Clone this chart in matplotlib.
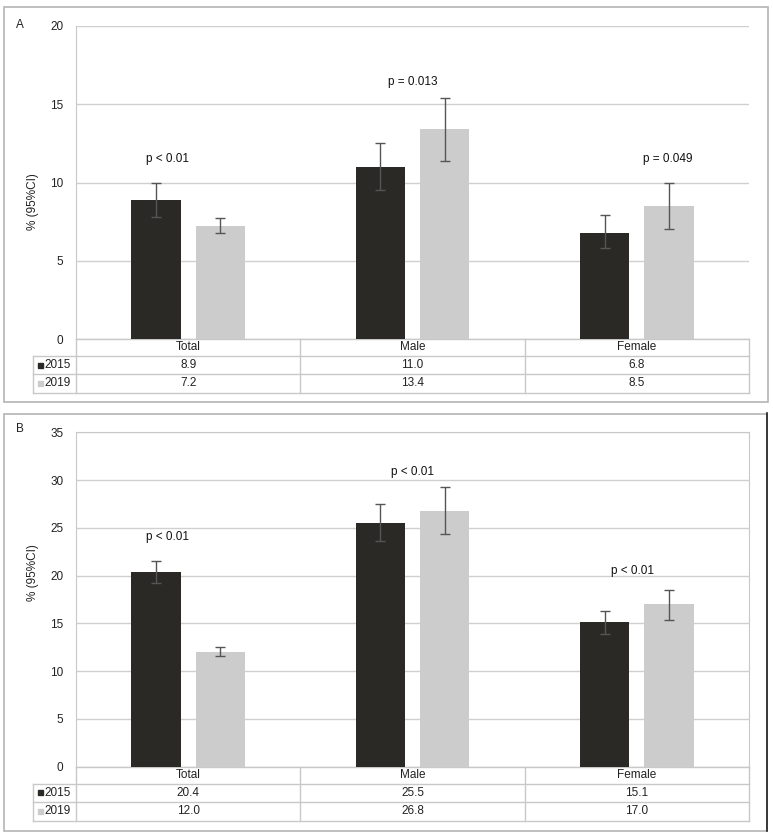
import numpy as np
import matplotlib
matplotlib.use('Agg')
import matplotlib.pyplot as plt
from matplotlib.patches import Rectangle
from matplotlib.lines import Line2D

plt.rcParams['font.family'] = ['Liberation Sans', 'DejaVu Sans']
plt.rcParams['font.size'] = 8

categories = ['Total', 'Male', 'Female']
years = ['2015', '2019']

# panel A
a_2015 = [8.9, 11.0, 6.8]
a_2019 = [7.2, 13.4, 8.5]
a_2015_lo = [7.8, 9.5, 5.8]
a_2015_hi = [10.0, 12.5, 7.9]
a_2019_lo = [6.8, 11.4, 7.0]
a_2019_hi = [7.7, 15.4, 10.0]
a_pvals = ['p < 0.01', 'p = 0.013', 'p = 0.049']
a_pval_x = [-0.09, 0.0, 0.14]
a_pval_y = [11.5, 16.4, 11.5]

# panel B
b_2015 = [20.4, 25.5, 15.1]
b_2019 = [12.0, 26.8, 17.0]
b_2015_lo = [19.2, 23.6, 13.9]
b_2015_hi = [21.5, 27.5, 16.3]
b_2019_lo = [11.6, 24.4, 15.4]
b_2019_hi = [12.5, 29.3, 18.5]
b_pvals = ['p < 0.01', 'p < 0.01', 'p < 0.01']
b_pval_x = [-0.09, 0.0, -0.02]
b_pval_y = [24.0, 30.8, 20.5]

dark = '#2a2925'
light = '#cccccc'
grid_c = '#d0d0d0'
line_c = '#c8c8c8'
err_c = '#555555'

W, H = 773, 836
fig = plt.figure(figsize=(W / 100, H / 100), dpi=100)


def px_box(x0, y0, x1, y1):
    # pixel box (top-left origin) -> figure fraction [left, bottom, width, height]
    return [x0 / W, 1 - y1 / H, (x1 - x0) / W, (y1 - y0) / H]


def draw_panel(ax, v15, v19, lo15, hi15, lo19, hi19, pvals, px, py, ymax, full_frame):
    x = np.arange(len(categories))
    off = 0.143
    bw = 0.22
    ax.bar(x - off, v15, bw, color=dark, zorder=3)
    ax.bar(x + off, v19, bw, color=light, zorder=3)
    e15 = [np.array(v15) - np.array(lo15), np.array(hi15) - np.array(v15)]
    e19 = [np.array(v19) - np.array(lo19), np.array(hi19) - np.array(v19)]
    ax.errorbar(x - off, v15, yerr=e15, fmt='none', ecolor=err_c, elinewidth=1.0,
                capsize=3.5, capthick=1.0, zorder=4)
    ax.errorbar(x + off, v19, yerr=e19, fmt='none', ecolor=err_c, elinewidth=1.0,
                capsize=3.5, capthick=1.0, zorder=4)
    for i, t in enumerate(pvals):
        ax.text(i + px[i], py[i], t, ha='center', va='center', fontsize=8.5, color='#111111')

    ax.set_xlim(-0.5, len(categories) - 0.5)
    ax.set_ylim(0, ymax)
    ax.set_yticks(np.arange(0, ymax + 1, 5))
    ax.set_xticks([])
    ax.yaxis.grid(True, color=grid_c, linewidth=1.0, zorder=0)
    ax.tick_params(axis='y', length=0, pad=9, labelsize=8.5, labelcolor='#222222')
    for s in ['top', 'right', 'bottom']:
        ax.spines[s].set_visible(full_frame and s != 'bottom')
        ax.spines[s].set_color(line_c)
    ax.spines['left'].set_color(line_c)
    ax.spines['bottom'].set_visible(False)

    # data table under the axes (pixel-based rows)
    bb = ax.get_position()
    ax_h = bb.height * H
    ax_w = bb.width * W
    rows = [17, 18, 19]
    ys = [0]
    for r in rows:
        ys.append(ys[-1] - r / ax_h)
    leg_x = -43 / ax_w
    kw = dict(transform=ax.transAxes, color=line_c, linewidth=1.0, clip_on=False)
    # horizontal lines
    ax.add_line(Line2D([0, 1], [ys[0], ys[0]], **kw))
    for y in ys[1:]:
        ax.add_line(Line2D([leg_x, 1], [y, y], **kw))
    # vertical lines
    for xb in [0, 1 / 3, 2 / 3, 1]:
        ax.add_line(Line2D([xb, xb], [ys[0], ys[-1]], **kw))
    ax.add_line(Line2D([leg_x, leg_x], [ys[1], ys[-1]], **kw))
    # header
    for i, c in enumerate(categories):
        ax.text((i + 0.5) / 3, (ys[0] + ys[1]) / 2, c, transform=ax.transAxes,
                ha='center', va='center', fontsize=8.5, color='#222222')
    for r, (vals, col) in enumerate([(v15, dark), (v19, light)]):
        yc = (ys[r + 1] + ys[r + 2]) / 2
        for i, v in enumerate(vals):
            ax.text((i + 0.5) / 3, yc, f'{v:.1f}', transform=ax.transAxes,
                    ha='center', va='center', fontsize=8.5, color='#222222')
        ax.add_patch(Rectangle((leg_x + 5 / ax_w, yc - 2.5 / ax_h), 5 / ax_w, 5 / ax_h,
                               transform=ax.transAxes, color=col, clip_on=False))
        ax.text(leg_x + 11 / ax_w, yc, years[r], transform=ax.transAxes,
                ha='left', va='center', fontsize=8.5, color='#222222')


# outer panel frames
fig.patches.append(Rectangle((4 / W, 1 - 402 / H), 764 / W, 395 / H, transform=fig.transFigure,
                             fill=False, edgecolor='#b4b4b4', linewidth=1.2))
fig.patches.append(Rectangle((4 / W, 1 - 831 / H), 763 / W, 417 / H, transform=fig.transFigure,
                             fill=False, edgecolor='#b4b4b4', linewidth=1.2))
fig.lines.append(Line2D([767 / W, 767 / W], [1 - 831 / H, 1 - 413 / H], transform=fig.transFigure,
                        color='#222222', linewidth=1.2))

ax_a = fig.add_axes(px_box(76, 26, 749, 339))
draw_panel(ax_a, a_2015, a_2019, a_2015_lo, a_2015_hi, a_2019_lo, a_2019_hi,
           a_pvals, a_pval_x, a_pval_y, 20, False)
ax_b = fig.add_axes(px_box(76, 432.3, 749, 766.7))
draw_panel(ax_b, b_2015, b_2019, b_2015_lo, b_2015_hi, b_2019_lo, b_2019_hi,
           b_pvals, b_pval_x, b_pval_y, 35, True)

fig.text(20 / W, 1 - 25 / H, 'A', ha='center', va='center', fontsize=8.5, color='#222222')
fig.text(20 / W, 1 - 429 / H, 'B', ha='center', va='center', fontsize=8.5, color='#222222')
fig.text(33 / W, 1 - 202 / H, '% (95%CI)', rotation=90, ha='center', va='center',
         fontsize=8.5, color='#222222')
fig.text(33 / W, 1 - 573 / H, '% (95%CI)', rotation=90, ha='center', va='center',
         fontsize=8.5, color='#222222')

fig.savefig('out.png', dpi=100, facecolor='white')
